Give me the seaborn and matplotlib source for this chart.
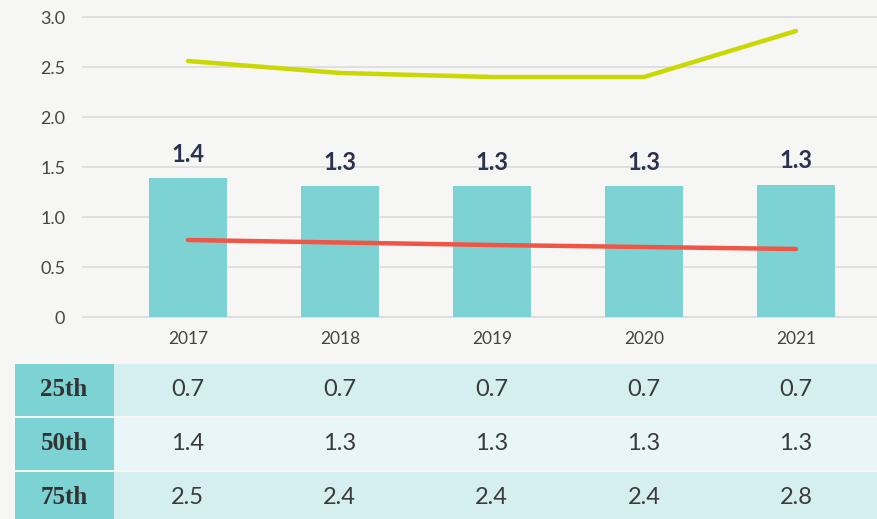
import numpy as np
import pandas as pd
import matplotlib
matplotlib.use("Agg")
import matplotlib.pyplot as plt
import seaborn as sns

# datos
years = ["2017", "2018", "2019", "2020", "2021"]
median = [1.39, 1.31, 1.31, 1.31, 1.32]
median_labels = ["1.4", "1.3", "1.3", "1.3", "1.3"]
p25 = [0.77, 0.745, 0.72, 0.70, 0.68]
p75 = [2.56, 2.44, 2.40, 2.40, 2.86]

row_names = ["25th", "50th", "75th"]
table_vals = [
    ["0.7", "0.7", "0.7", "0.7", "0.7"],
    ["1.4", "1.3", "1.3", "1.3", "1.3"],
    ["2.5", "2.4", "2.4", "2.4", "2.8"],
]

bg = "#f6f6f4"
teal = "#7dd3d3"
navy = "#2b3150"
sns.set_theme(style="white")
plt.rcParams["font.family"] = ["Lato", "DejaVu Sans"]

W, H = 877, 519
fig = plt.figure(figsize=(W / 100, H / 100), dpi=100, facecolor=bg)

# --- grafico principal ---
y0, y1 = -0.01, 3.01
px_per_unit = 100
top_px = 17 - 0.01 * px_per_unit
bot_px = 317 + 0.01 * px_per_unit
ax = fig.add_axes([82 / W, 1 - bot_px / H, 1 - 82 / W, (bot_px - top_px) / H])
ax.set_facecolor(bg)

df = pd.DataFrame({"year": years, "median": median})
sns.barplot(data=df, x="year", y="median", color=teal, saturation=1,
            width=0.51, linewidth=0, ax=ax, zorder=3)
for i, lab in enumerate(median_labels):
    ax.annotate(lab, (i, median[i]), xytext=(0, 9), textcoords="offset points",
                ha="center", va="bottom", fontsize=17, fontweight="bold", color=navy)

x = np.arange(len(years))
sns.lineplot(x=x, y=p75, color="#c8d800", linewidth=3.2, ax=ax, zorder=4,
             solid_capstyle="round", sort=False)
sns.lineplot(x=x, y=p25, color="#f05545", linewidth=3.2, ax=ax, zorder=4,
             solid_capstyle="round", sort=False)

ax.set_xlim(-0.697, 4.533)
ax.set_ylim(y0, y1)
yt = [0, 0.5, 1.0, 1.5, 2.0, 2.5, 3.0]
ax.set_yticks(yt)
ax.set_yticklabels(["0", "0.5", "1.0", "1.5", "2.0", "2.5", "3.0"])
for v in yt:
    ax.axhline(v, color="#dddddd", linewidth=1.3, zorder=1)
ax.tick_params(axis="y", length=0, pad=12, labelsize=13, labelcolor="#444444")
ax.tick_params(axis="x", length=0, pad=9, labelsize=12.5, labelcolor="#444444")
ax.set_xlabel("")
ax.set_ylabel("")
for s in ax.spines.values():
    s.set_visible(False)

# --- tabla ---
tax = fig.add_axes([0, 0, 1, 1 - 363 / H])
tax.set_facecolor(bg)
tax.set_xlim(-1.234, 4.533)
tax.set_ylim(2.89, 0)
tax.axis("off")
left_hdr = (15 - 188) / 152
right_hdr = (114 - 188) / 152
row_bg = ["#d5eff0", "#e8f6f7", "#d5eff0"]
gap = 0.02
for r, name in enumerate(row_names):
    tax.fill_between([left_hdr, right_hdr], r + gap, r + 1 - gap, color=teal, lw=0)
    tax.fill_between([right_hdr, 4.533], r + gap, r + 1 - gap, color=row_bg[r], lw=0)
    tax.text((left_hdr + right_hdr) / 2, r + 0.5, name, ha="center", va="center",
             fontsize=18, fontweight="bold", family="Liberation Serif", color="#333333")
    for c, val in enumerate(table_vals[r]):
        tax.text(c, r + 0.5, val, ha="center", va="center", fontsize=17, color="#3a3a3a")

fig.savefig("out.png", dpi=100, facecolor=bg)
